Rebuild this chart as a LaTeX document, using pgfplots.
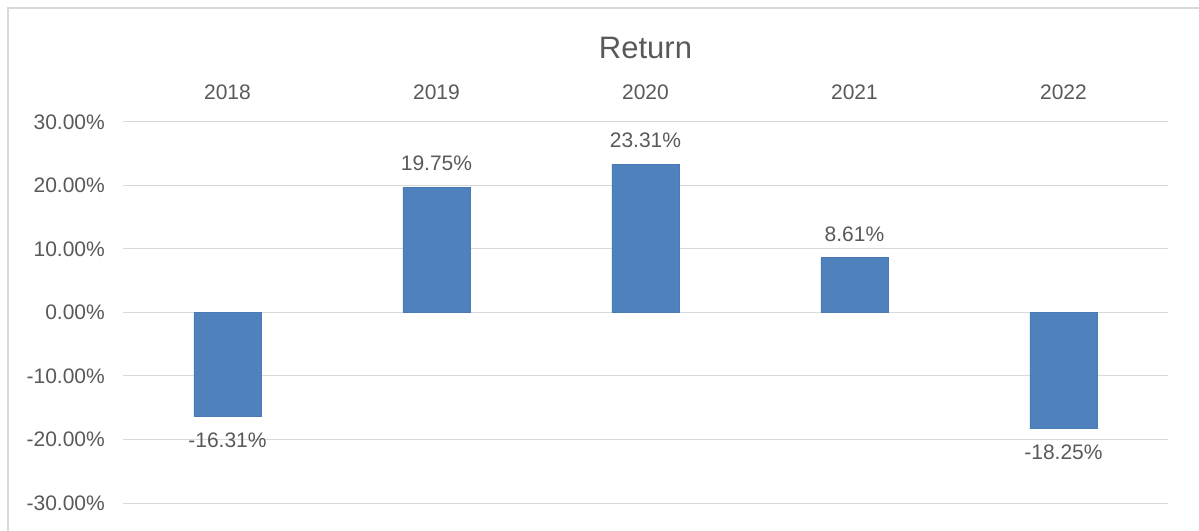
\documentclass[border=0pt]{standalone}
\usepackage{pgfplots}
\pgfplotsset{compat=1.18}
\usepackage{fontspec}
\setmainfont{Liberation Sans}
\definecolor{txt}{HTML}{595959}
\definecolor{gridc}{HTML}{D9D9D9}
\definecolor{barfill}{HTML}{4F81BD}
\definecolor{baredge}{HTML}{4A7AB5}
\begin{document}
\begin{tikzpicture}
\begin{axis}[
  at={(123bp,28bp)}, anchor=south west,
  scale only axis,
  width=1045bp, height=381bp,
  ybar, bar width=67bp,
  xmin=-0.5, xmax=4.5,
  ymin=-30, ymax=30,
  ytick={-30,-20,...,30},
  xtick={0,1,2,3,4},
  xticklabels={2018,2019,2020,2021,2022},
  xticklabel pos=upper,
  major tick length=0pt,
  axis line style={draw=none},
  xmajorgrids=false, ymajorgrids=true,
  y grid style={draw=gridc, line width=1bp},
  /pgf/number format/assume math mode=true,
  yticklabel={\pgfmathprintnumber[fixed,fixed zerofill,precision=2]{\tick}\%},
  every tick label/.append style={font=\fontsize{21bp}{25bp}\selectfont, text=txt},
  yticklabel style={anchor=east, inner sep=0pt, xshift=-18bp},
  xticklabel style={anchor=center, inner sep=0pt, yshift=30bp},
  title={Return},
  title style={at={(0.5,1)}, anchor=center, yshift=68bp, font=\fontsize{31bp}{36bp}\selectfont, text=txt},
  nodes near coords={\pgfmathprintnumber[fixed,fixed zerofill,precision=2,assume math mode=true]{\pgfplotspointmeta}\%},
  every node near coord/.append style={font=\fontsize{21bp}{25bp}\selectfont, text=txt, inner xsep=0pt, inner ysep=16bp},
  clip=false,
]
\addplot[fill=barfill, draw=baredge, line width=0.8bp] coordinates {(0,-16.31) (1,19.75) (2,23.31) (3,8.61) (4,-18.25)};
\end{axis}
\draw[gridc, line width=1.2bp] (8bp,-5bp) -- (8bp,523bp) -- (1205bp,523bp);
\pgfresetboundingbox
\useasboundingbox (0,0) rectangle (1199bp,531bp);
\end{tikzpicture}
\end{document}
